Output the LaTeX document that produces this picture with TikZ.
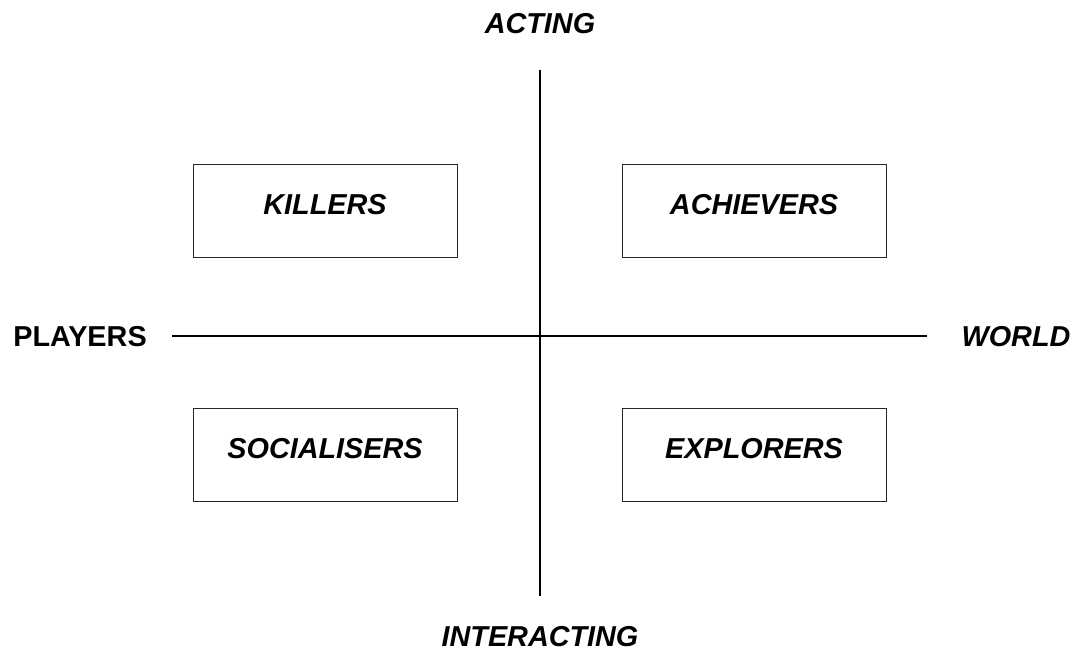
\documentclass[tikz,border=0pt]{standalone}
\usepackage{fontspec}
\setmainfont{Liberation Sans}
\begin{document}
\begin{tikzpicture}[x=0.5pt,y=-0.5pt,
  quad/.style={draw=black!85,line width=0.75pt,minimum width=132pt,minimum height=46.5pt,inner sep=0pt},
  lbl/.style={inner sep=0pt,font=\fontsize{14.4}{16}\selectfont\bfseries\itshape},
  side/.style={inner sep=0pt,font=\fontsize{14.4}{16}\selectfont\bfseries},
  axis/.style={line width=1pt,black}]
\useasboundingbox (0,0) rectangle (1078,651);
% four quadrant boxes
\node[quad] (kil) at (325.5,211) {};
\node[quad] (ach) at (754.5,211) {};
\node[quad] (soc) at (325.5,455) {};
\node[quad] (exp) at (754.5,455) {};
\node[lbl] (kilt) at (325,205) {KILLERS};
\node[lbl] (acht) at (754,205) {ACHIEVERS};
\node[lbl] (soct) at (325,449) {SOCIALISERS};
\node[lbl] (expt) at (754,449) {EXPLORERS};
% axis end points
\coordinate (top) at (540,70);
\coordinate (bot) at (540,596);
\coordinate (lft) at (172,336);
\coordinate (rgt) at (927,336);
\draw[axis] (top) -- (bot);
\draw[axis] (lft) -- (rgt);
% axis labels
\node[lbl] (act) at (540,24) {ACTING};
\node[lbl] (int) at (540,637) {INTERACTING};
\node[side] (ply) at (80,337) {PLAYERS};
\node[lbl] (wld) at (1016,337) {WORLD};
\end{tikzpicture}
\end{document}
